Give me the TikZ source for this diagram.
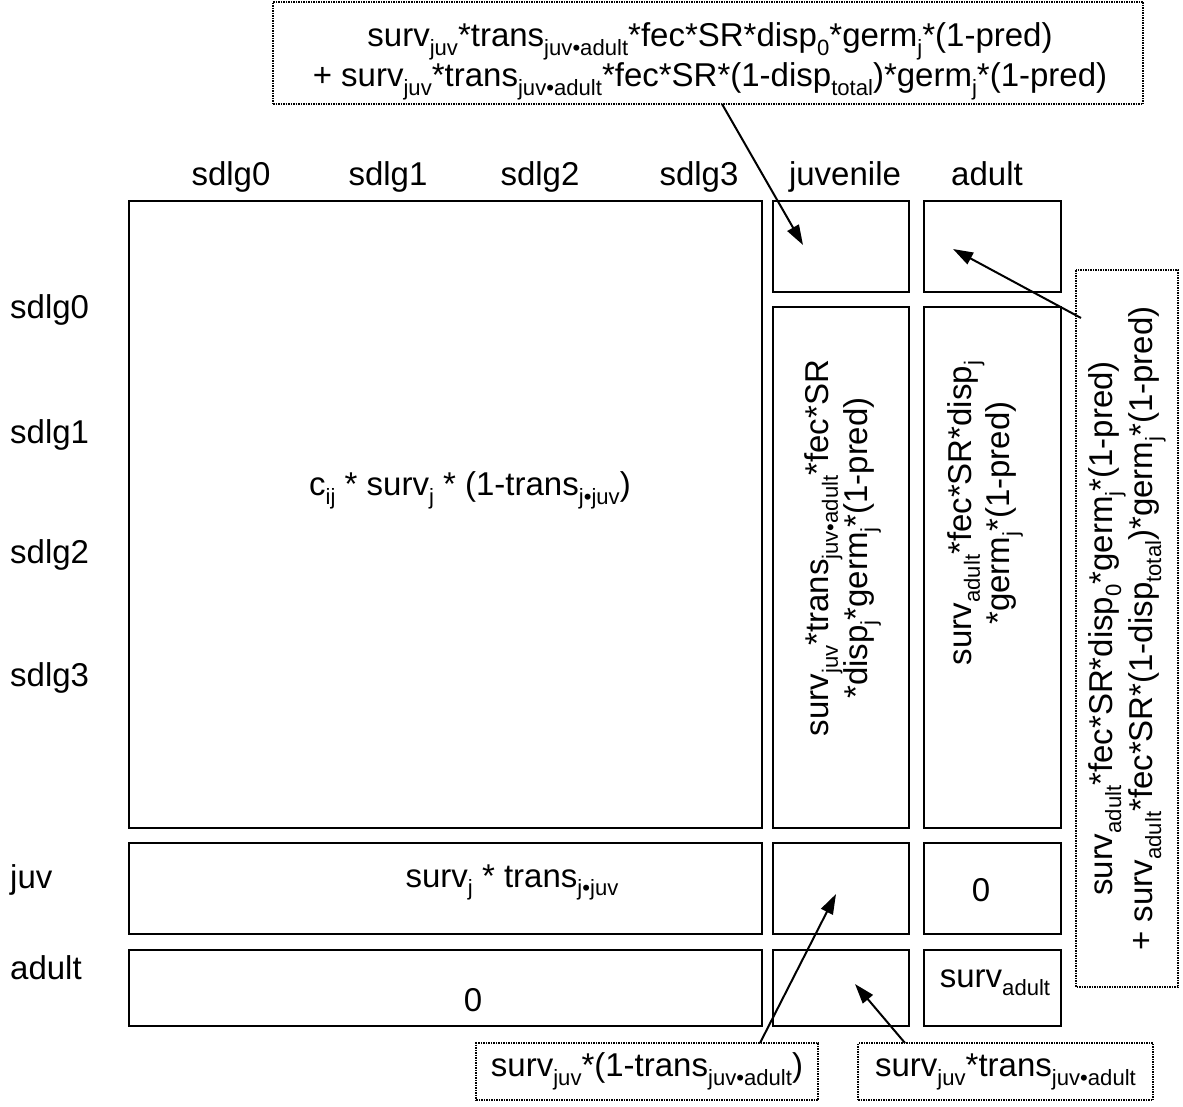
\documentclass[tikz,border=0pt]{standalone}
\usepackage{fontspec}
\setmainfont{Liberation Sans}
\usepackage{graphicx}
\usetikzlibrary{arrows.meta,calc}
\newcommand{\lo}[1]{\raisebox{-0.27em}{\scalebox{0.67}{#1}}}
\begin{document}
\begin{tikzpicture}[x=1pt,y=-1pt,
  every node/.style={font=\fontsize{33}{37}\selectfont, inner sep=0pt},
  wide/.style={font=\fontsize{33}{40}\selectfont},
  cell/.style={draw, line width=2pt},
  note/.style={draw, densely dotted, line width=1.5pt},
  arr/.style={line width=2pt, -{Triangle[length=20pt,width=13pt]}},
  hdr/.style={anchor=base},
  rowl/.style={anchor=west}]
\useasboundingbox[fill=white] (0,0) rectangle (1183,1106);
% cells
\node[cell, minimum width=633pt, minimum height=627pt] (big) at (445.5,514.5) {};
\node[cell, minimum width=136pt, minimum height=91pt] (jtop) at (841,246.5) {};
\node[cell, minimum width=137pt, minimum height=91pt] (atop) at (992.5,246.5) {};
\node[cell, minimum width=136pt, minimum height=521pt] (jtall) at (841,567.5) {};
\node[cell, minimum width=137pt, minimum height=521pt] (atall) at (992.5,567.5) {};
\node[cell, minimum width=633pt, minimum height=91pt] (juvl) at (445.5,888.5) {};
\node[cell, minimum width=136pt, minimum height=91pt] (juvj) at (841,888.5) {};
\node[cell, minimum width=137pt, minimum height=91pt] (juva) at (992.5,888.5) {};
\node[cell, minimum width=633pt, minimum height=76pt] (adl) at (445.5,988) {};
\node[cell, minimum width=136pt, minimum height=76pt] (adj) at (841,988) {};
\node[cell, minimum width=137pt, minimum height=76pt] (ada) at (992.5,988) {};
% headers
\node[hdr] (h0) at (231,185) {sdlg0};
\node[hdr] (h1) at (388,185) {sdlg1};
\node[hdr] (h2) at (540,185) {sdlg2};
\node[hdr] (h3) at (699,185) {sdlg3};
\node[hdr] (h4) at (845,185) {juvenile};
\node[hdr] (h5) at (987,185) {adult};
% row labels
\node[rowl] (r0) at (10,310) {sdlg0};
\node[rowl] (r1) at (10,435) {sdlg1};
\node[rowl] (r2) at (10,555) {sdlg2};
\node[rowl] (r3) at (10,678) {sdlg3};
\node[rowl] (r4) at (10,880) {juv};
\node[rowl] (r5) at (10,968) {adult};
% cell texts
\node (tbig) at (470,490) {c\lo{ij} * surv\lo{j} * (1-trans\lo{j•juv})};
\node[anchor=base] (tjuvl) at (512,887) {surv\lo{j} * trans\lo{j•juv}};
\node (tjuva) at (981,890) {0};
\node (tadl) at (473,1000) {0};
\node[anchor=base] (tada) at (995,987) {surv\lo{adult}};
\node[rotate=90, align=center] (tjtall) at (843,548) {surv\lo{juv}*trans\lo{juv•adult}*fec*SR\\*disp\lo{j}*germ\lo{j}*(1-pred)};
\node[rotate=90, align=center] (tatall) at (985,513) {surv\lo{adult}*fec*SR*disp\lo{j}\\*germ\lo{j}*(1-pred)};
% notes
\node[note, minimum width=870pt, minimum height=102pt] (ntop) at (708,53) {};
\node[wide, align=center] (ntoptxt) at (710,61)
  {surv\lo{juv}*trans\lo{juv•adult}*fec*SR*disp\lo{0}*germ\lo{j}*(1-pred)\\+ surv\lo{juv}*trans\lo{juv•adult}*fec*SR*(1-disp\lo{total})*germ\lo{j}*(1-pred)};
\node[note, wide, rotate=90, minimum width=717pt, minimum height=102pt, align=center] (nright) at (1127,628.5)
  {surv\lo{adult}*fec*SR*disp\lo{0}*germ\lo{j}*(1-pred)\\+ surv\lo{adult}*fec*SR*(1-disp\lo{total})*germ\lo{j}*(1-pred)};
\node[note, minimum width=342pt, minimum height=57pt] (nbl) at (647,1071.5) {surv\lo{juv}*(1-trans\lo{juv•adult})};
\node[note, minimum width=295pt, minimum height=57pt] (nbr) at (1005.5,1071.5) {surv\lo{juv}*trans\lo{juv•adult}};
% arrow ends
\coordinate (a1s) at (722,104);
\coordinate (a1e) at (803,245);
\coordinate (a2s) at (1081,318);
\coordinate (a2e) at (953,249);
\coordinate (a3s) at (760,1043);
\coordinate (a3e) at (836,894);
\coordinate (a4s) at (905,1043);
\coordinate (a4e) at (855,984);
\draw[arr] (a1s) -- (a1e);
\draw[arr] (a2s) -- (a2e);
\draw[arr] (a3s) -- (a3e);
\draw[arr] (a4s) -- (a4e);
\end{tikzpicture}
\end{document}
